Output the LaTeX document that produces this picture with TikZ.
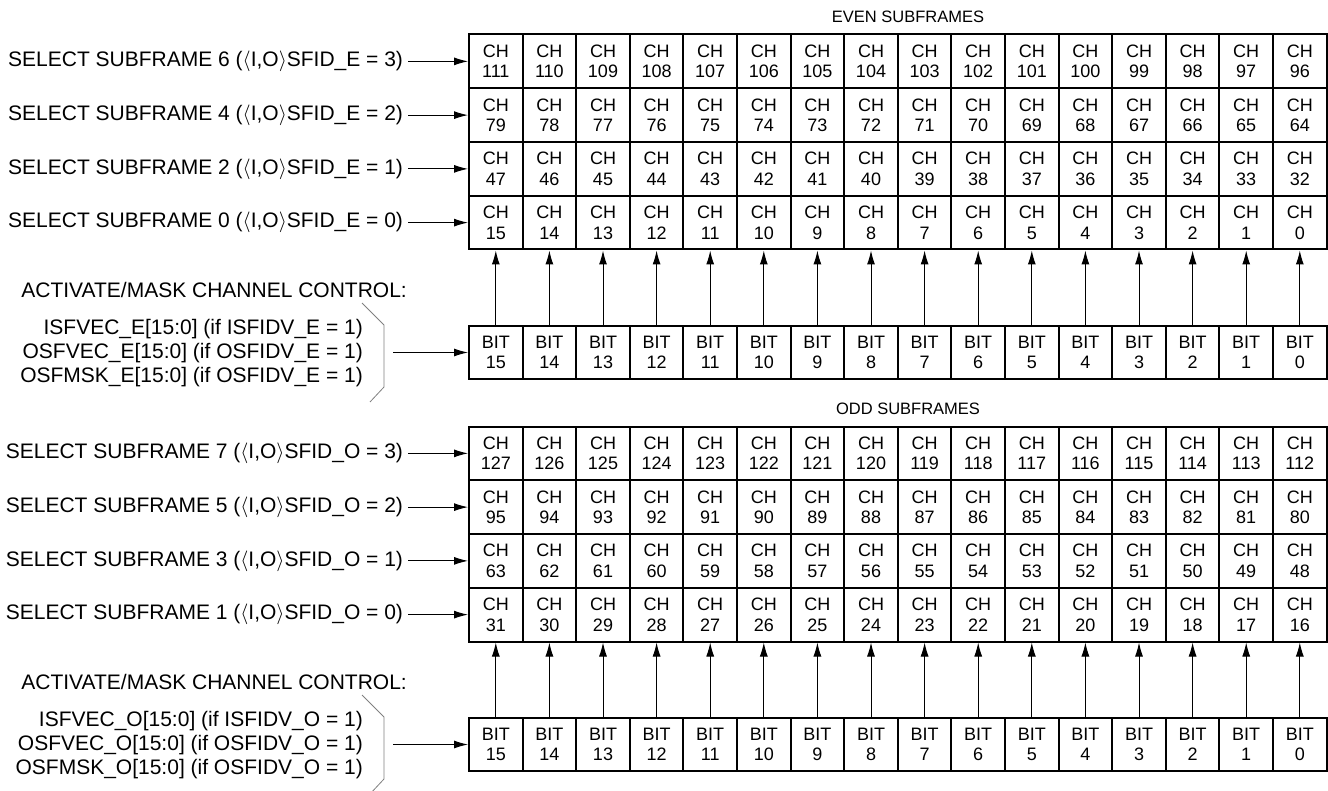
\documentclass[tikz,border=0pt]{standalone}
\usepackage{fontspec}
\setmainfont{Liberation Sans}
\usetikzlibrary{arrows.meta,positioning}
\newcommand{\lblfont}{\fontsize{21}{24}\selectfont}
\newcommand{\cellfont}{\fontsize{18}{20.6}\selectfont}
\newcommand{\ttlfont}{\fontsize{16.5}{19}\selectfont}

\begin{document}
\begin{tikzpicture}[
  x=1pt, y=-1pt,
  cell/.style={draw, line width=2pt, minimum width=53.6pt, minimum height=53.75pt, inner sep=0pt, align=center, font=\cellfont},
  sel/.style={anchor=east, inner sep=0pt, outer sep=5pt, font=\lblfont},
  mask/.style={anchor=east, inner sep=0pt, align=right, font=\lblfont},
  arrow/.style={-{Latex[length=14pt,width=8pt]}, line width=1pt},
  bracket/.style={draw=gray, line width=0.8pt},
  title/.style={font=\ttlfont},
]
  \useasboundingbox (0,0) rectangle (1328,791);

  \foreach \blk/\dy/\odd/\ttl in {E/0/0/EVEN, O/392/1/ODD} {
    \node[title] (t\blk) at (908, 17+\dy) {\ttl\ SUBFRAMES};

    % channel grid, one row per subframe
    \foreach \r in {0,...,3} {
      \pgfmathtruncatemacro\sf{6+\odd-2*\r}
      \pgfmathtruncatemacro\sid{3-\r}
      \foreach \c in {0,...,15} {
        \pgfmathtruncatemacro\ch{16*\sf+15-\c}
        \node[cell] (c\blk-\r-\c) at (469+26.8+53.6*\c, 34.5+26.875+53.75*\r+\dy) {CH\\\ch};
      }
      \node[sel] (s\blk-\r) at (408, 34.5+26.875+53.75*\r+\dy)
        {SELECT SUBFRAME \sf\ ($\langle$I,O$\rangle$SFID\_\blk{} = \sid)};
      \draw[arrow] (s\blk-\r.east) -- (c\blk-\r-0.west);
    }

    % bit vector
    \foreach \c in {0,...,15} {
      \pgfmathtruncatemacro\bt{15-\c}
      \node[cell] (b\blk-\c) at (469+26.8+53.6*\c, 352.5+\dy) {BIT\\\bt};
      \draw[arrow] (b\blk-\c.north) -- (c\blk-3-\c.south);
    }

    \node[mask, anchor=east] (a\blk) at (407, 290+\dy) {ACTIVATE/MASK CHANNEL CONTROL:};
    \node[mask] (m\blk) at (363, 353+\dy)
      {ISFVEC\_\blk[15:0] (if ISFIDV\_\blk{} = 1)\\
       OSFVEC\_\blk[15:0] (if OSFIDV\_\blk{} = 1)\\
       OSFMSK\_\blk[15:0] (if OSFIDV\_\blk{} = 1)};
    \draw[bracket] (362,303+\dy) -- (384,325+\dy) -- (384,387+\dy) -- (370,402+\dy);
    \coordinate (br\blk) at (393, 352.5+\dy);
    \draw[arrow] (br\blk) -- (b\blk-0.west);
  }
\end{tikzpicture}
\end{document}
